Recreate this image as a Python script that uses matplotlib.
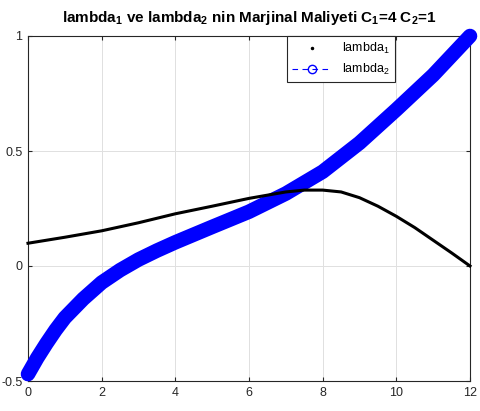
import matplotlib
matplotlib.use("Agg")
import matplotlib.pyplot as plt
from matplotlib.lines import Line2D

plt.rcParams['font.family'] = ['Liberation Sans', 'DejaVu Sans']
plt.rcParams['mathtext.fontset'] = 'custom'
plt.rcParams['mathtext.rm'] = 'Liberation Sans'
plt.rcParams['mathtext.bf'] = 'Liberation Sans:bold'

# values
x1 = [0, 1, 2, 3, 4, 5, 6, 7, 7.5, 8, 8.5, 9, 9.5, 10, 10.5, 11, 11.5, 12]
lambda1 = [0.099, 0.125, 0.153, 0.188, 0.227, 0.260, 0.294, 0.322, 0.330, 0.330,
           0.322, 0.297, 0.260, 0.216, 0.167, 0.112, 0.057, 0.0]

x2 = [0, 0.25, 0.5, 0.75, 1, 1.5, 2, 2.5, 3, 3.5, 4, 5, 6, 7, 8, 9, 10, 11, 12]
lambda2 = [-0.47, -0.40, -0.337, -0.278, -0.225, -0.143, -0.072, -0.018, 0.028,
           0.067, 0.103, 0.170, 0.236, 0.315, 0.410, 0.535, 0.680, 0.830, 1.0]

xticks = [0, 2, 4, 6, 8, 10, 12]
yticks = [-0.5, 0, 0.5, 1]
ytick_labels = ["-0.5", "0", "0.5", "1"]

fig = plt.figure(figsize=(4.81, 4.11), dpi=100)
ax = fig.add_axes([28/481, 1-381/411, 442/481, 345/411])

ax.plot(x2, lambda2, color='blue', linewidth=10.5, solid_capstyle='round',
        solid_joinstyle='round', zorder=3, clip_on=False)
ax.plot(x1, lambda1, color='black', linewidth=2.2, zorder=4, clip_on=False)

ax.set_xlim(0, 12)
ax.set_ylim(-0.5, 1)
ax.set_xticks(xticks)
ax.set_yticks(yticks)
ax.set_yticklabels(ytick_labels)
ax.tick_params(direction='in', top=True, right=True, labelsize=9, length=3,
               color='#262626', labelcolor='#262626', pad=4)
ax.grid(True, color='#e0e0e0', linewidth=0.7)
ax.set_axisbelow(True)
for s in ax.spines.values():
    s.set_color('#262626')
    s.set_linewidth(0.8)

ax.set_title(r"lambda$_\mathbf{1}$ ve lambda$_\mathbf{2}$ nin Marjinal Maliyeti "
             r"C$_\mathbf{1}$=4 C$_\mathbf{2}$=1",
             fontsize=11, fontweight='bold', pad=10)

h1 = Line2D([], [], color='black', marker='.', markersize=3, linestyle='none')
h2 = Line2D([], [], color='blue', marker='o', markersize=6, markerfacecolor='none',
            linestyle='--', linewidth=0.8, dashes=(5, 4))
leg = ax.legend([h1, h2], ["lambda$_1$", "lambda$_2$"], loc='upper right',
                bbox_to_anchor=(0.83, 1.0), borderaxespad=0, fancybox=False,
                fontsize=9, handlelength=3.2, edgecolor='#262626', framealpha=1)
leg.get_frame().set_linewidth(0.8)

fig.savefig("out.png", dpi=100)
